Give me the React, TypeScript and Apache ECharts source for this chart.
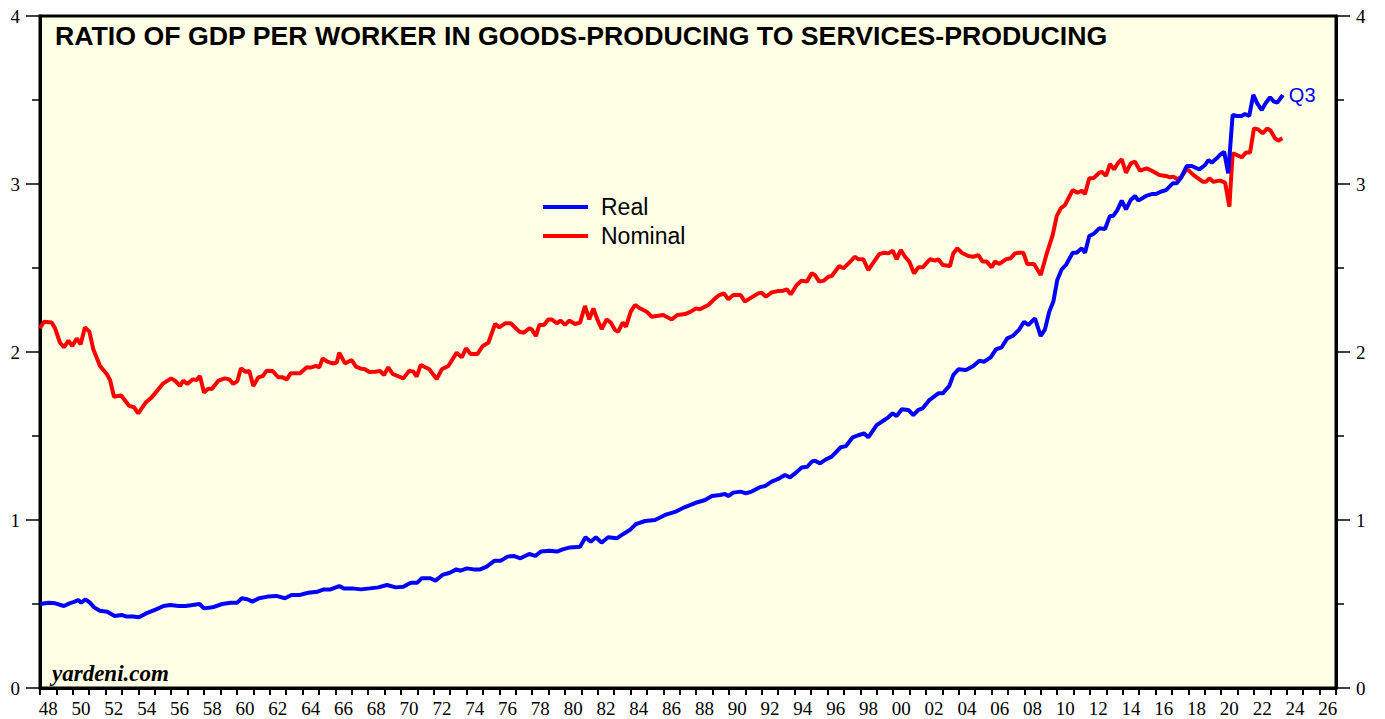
import React, { useEffect, useRef } from "react";
import * as echarts from "echarts";

const yearLabels = [
  "48","49","50","51","52","53","54","55","56","57","58","59","60","61","62","63","64","65","66","67",
  "68","69","70","71","72","73","74","75","76","77","78","79","80","81","82","83","84","85","86","87",
  "88","89","90","91","92","93","94","95","96","97","98","99","00","01","02","03","04","05","06","07",
  "08","09","10","11","12","13","14","15","16","17","18","19","20","21","22","23","24","25","26",
];

const realYears = [
  1948.0,1948.53,1948.93,1949.46,1949.8,1950.12,1950.33,1950.51,1950.77,1951.04,1951.3,1951.65,1952.1,1952.55,1952.97,1953.28,1953.68,1954.03,1954.47,1955.08,
  1955.53,1955.93,1956.46,1956.86,1957.2,1957.73,1957.99,1958.52,1959.1,1959.63,1960.03,1960.29,1960.64,1960.95,1961.35,1961.88,1962.41,1962.93,1963.33,1963.86,
  1964.34,1964.92,1965.31,1965.71,1966.24,1966.51,1967.03,1967.57,1968.1,1968.62,1969.15,1969.68,1970.15,1970.6,1971.0,1971.26,1971.79,1972.11,1972.53,1972.98,
  1973.38,1973.64,1974.03,1974.43,1974.83,1975.23,1975.71,1976.08,1976.5,1976.87,1977.29,1977.82,1978.19,1978.53,1979.06,1979.52,1979.86,1980.31,1980.92,1981.25,
  1981.57,1981.89,1982.23,1982.63,1983.16,1983.56,1983.95,1984.33,1984.88,1985.49,1986.1,1986.71,1987.32,1987.93,1988.54,1988.96,1989.45,1989.75,1989.96,1990.26,
  1990.71,1991.04,1991.38,1991.85,1992.19,1992.6,1993.07,1993.41,1993.72,1994.08,1994.43,1994.77,1995.04,1995.24,1995.55,1995.91,1996.26,1996.81,1997.13,1997.54,
  1997.94,1998.23,1998.49,1999.0,1999.4,1999.71,1999.98,2000.22,2000.53,2000.93,2001.23,2001.54,2001.81,2002.21,2002.76,2003.03,2003.43,2003.67,2003.98,2004.45,
  2004.89,2005.26,2005.54,2005.95,2006.27,2006.62,2006.96,2007.29,2007.7,2007.98,2008.24,2008.65,2009.0,2009.26,2009.52,2009.77,2010.01,2010.28,2010.54,2010.95,
  2011.19,2011.5,2011.7,2011.96,2012.21,2012.57,2012.92,2013.22,2013.42,2013.67,2013.94,2014.2,2014.49,2014.75,2014.95,2015.42,2015.77,2016.03,2016.31,2016.64,
  2017.05,2017.29,2017.53,2017.9,2018.2,2018.67,2019.02,2019.22,2019.42,2019.73,2019.93,2020.18,2020.43,2020.7,2020.98,2021.25,2021.45,2021.71,2021.96,2022.2,
  2022.47,2022.73,2022.98,2023.22,2023.42,2023.76,
];
const realValues = [
  0.5,0.508,0.504,0.488,0.504,0.514,0.524,0.508,0.528,0.508,0.48,0.46,0.454,0.429,0.435,0.425,0.425,0.421,0.444,0.468,
  0.488,0.494,0.488,0.488,0.492,0.5,0.474,0.48,0.5,0.508,0.508,0.534,0.528,0.514,0.534,0.544,0.548,0.534,0.554,0.554,
  0.567,0.573,0.587,0.587,0.607,0.593,0.593,0.587,0.593,0.599,0.613,0.599,0.603,0.627,0.627,0.653,0.653,0.639,0.673,0.686,
  0.706,0.698,0.712,0.706,0.706,0.722,0.758,0.758,0.782,0.786,0.772,0.798,0.786,0.812,0.817,0.812,0.825,0.837,0.841,0.897,
  0.871,0.897,0.865,0.897,0.891,0.917,0.94,0.976,0.994,1.0,1.03,1.048,1.077,1.101,1.119,1.143,1.149,1.155,1.143,1.163,
  1.169,1.159,1.169,1.194,1.202,1.228,1.248,1.268,1.254,1.282,1.313,1.317,1.347,1.353,1.337,1.361,1.377,1.433,1.44,1.492,
  1.506,1.516,1.492,1.565,1.591,1.611,1.635,1.619,1.659,1.655,1.625,1.655,1.665,1.714,1.754,1.754,1.798,1.863,1.897,1.893,
  1.917,1.948,1.942,1.968,2.016,2.028,2.081,2.095,2.135,2.18,2.161,2.2,2.095,2.135,2.24,2.3,2.429,2.492,2.518,2.591,
  2.591,2.617,2.591,2.69,2.702,2.736,2.732,2.81,2.81,2.845,2.901,2.849,2.905,2.929,2.901,2.929,2.94,2.94,2.954,2.964,
  3.004,3.004,3.034,3.107,3.107,3.087,3.113,3.143,3.127,3.153,3.173,3.192,3.063,3.411,3.405,3.405,3.417,3.405,3.53,3.48,
  3.44,3.484,3.516,3.49,3.484,3.53,
];

const nominalYears = [
  1948.0,1948.24,1948.71,1948.91,1949.22,1949.46,1949.73,1949.97,1950.24,1950.48,1950.74,1951.01,1951.25,1951.66,1952.07,1952.27,1952.51,1952.94,1953.44,1953.73,
  1953.99,1954.46,1954.81,1955.48,1955.99,1956.23,1956.53,1956.74,1956.98,1957.31,1957.55,1957.75,1958.0,1958.26,1958.47,1958.87,1959.28,1959.54,1959.78,1960.03,
  1960.25,1960.5,1960.76,1961.0,1961.31,1961.58,1961.82,1962.18,1962.53,1962.79,1963.04,1963.28,1963.85,1964.26,1964.5,1964.82,1965.03,1965.23,1965.51,1965.84,
  1966.09,1966.24,1966.59,1967.0,1967.26,1967.55,1967.81,1968.07,1968.42,1968.73,1968.97,1969.23,1969.5,1970.15,1970.51,1970.76,1970.96,1971.21,1971.73,1972.18,
  1972.49,1972.89,1973.4,1973.71,1973.97,1974.25,1974.66,1974.99,1975.33,1975.74,1976.0,1976.35,1976.69,1977.22,1977.5,1977.83,1977.97,1978.23,1978.44,1978.72,
  1978.98,1979.19,1979.5,1979.74,1980.0,1980.26,1980.61,1980.92,1981.22,1981.48,1981.73,1981.97,1982.24,1982.54,1982.79,1983.05,1983.25,1983.52,1983.72,1984.01,
  1984.27,1984.57,1984.98,1985.29,1985.99,1986.51,1986.85,1987.32,1987.67,1987.99,1988.23,1988.74,1989.15,1989.41,1989.69,1989.96,1990.26,1990.71,1990.97,1991.28,
  1991.78,1991.99,1992.25,1992.6,1993.0,1993.31,1993.52,1993.76,1994.13,1994.43,1994.74,1995.04,1995.24,1995.5,1995.79,1996.05,1996.26,1996.72,1996.97,1997.33,
  1997.68,1997.88,1998.19,1998.49,1998.84,1999.16,1999.45,1999.71,1999.98,2000.22,2000.47,2000.73,2000.99,2001.28,2001.54,2001.81,2002.25,2002.56,2002.76,2003.03,
  2003.47,2003.67,2003.92,2004.18,2004.59,2004.89,2005.2,2005.46,2005.71,2006.01,2006.21,2006.48,2006.88,2007.17,2007.43,2007.7,2007.94,2008.18,2008.59,2009.0,
  2009.37,2009.73,2009.98,2010.22,2010.48,2010.95,2011.23,2011.5,2011.7,2011.96,2012.21,2012.57,2012.72,2012.98,2013.22,2013.47,2013.73,2013.94,2014.2,2014.49,
  2014.75,2015.05,2015.46,2015.77,2016.23,2016.64,2016.88,2017.08,2017.33,2017.59,2017.86,2018.0,2018.3,2018.87,2019.08,2019.28,2019.52,2019.93,2020.24,2020.5,
  2020.7,2020.95,2021.25,2021.51,2021.76,2022.0,2022.26,2022.53,2022.81,2023.02,2023.28,2023.48,2023.73,
];
const nominalValues = [
  2.141,2.18,2.175,2.143,2.055,2.028,2.067,2.036,2.081,2.046,2.147,2.121,2.016,1.917,1.869,1.833,1.734,1.742,1.679,1.671,
  1.635,1.701,1.73,1.81,1.843,1.829,1.798,1.829,1.81,1.837,1.833,1.857,1.758,1.782,1.78,1.829,1.843,1.837,1.81,1.827,
  1.903,1.883,1.887,1.798,1.849,1.857,1.889,1.887,1.849,1.849,1.837,1.873,1.873,1.909,1.907,1.917,1.909,1.962,1.943,1.932,
  1.937,1.996,1.932,1.952,1.913,1.901,1.897,1.881,1.883,1.887,1.863,1.909,1.869,1.843,1.889,1.883,1.853,1.923,1.897,1.839,
  1.897,1.917,1.996,1.968,2.022,1.988,1.988,2.036,2.055,2.167,2.147,2.171,2.171,2.121,2.115,2.141,2.135,2.095,2.161,2.161,
  2.194,2.194,2.171,2.187,2.161,2.187,2.167,2.175,2.274,2.194,2.26,2.194,2.137,2.194,2.175,2.131,2.121,2.175,2.151,2.24,
  2.28,2.26,2.24,2.21,2.22,2.194,2.22,2.226,2.24,2.26,2.254,2.28,2.319,2.339,2.349,2.314,2.339,2.339,2.3,2.319,
  2.349,2.353,2.329,2.355,2.363,2.365,2.373,2.343,2.399,2.425,2.419,2.468,2.458,2.419,2.425,2.448,2.452,2.512,2.498,2.532,
  2.567,2.552,2.552,2.488,2.538,2.583,2.591,2.587,2.603,2.552,2.607,2.567,2.538,2.468,2.504,2.504,2.552,2.544,2.552,2.518,
  2.512,2.587,2.617,2.591,2.571,2.567,2.577,2.538,2.538,2.504,2.538,2.524,2.552,2.558,2.587,2.591,2.591,2.524,2.524,2.458,
  2.587,2.696,2.81,2.855,2.875,2.964,2.948,2.96,2.94,3.034,3.034,3.067,3.073,3.048,3.119,3.087,3.127,3.147,3.067,3.123,
  3.133,3.079,3.093,3.079,3.054,3.048,3.04,3.044,3.028,3.044,3.087,3.083,3.054,3.014,3.014,3.034,3.014,3.02,3.008,2.865,
  3.183,3.173,3.159,3.187,3.187,3.331,3.325,3.302,3.331,3.317,3.272,3.258,3.272,
];

const titleText = "RATIO OF GDP PER WORKER IN GOODS-PRODUCING TO SERVICES-PRODUCING";
const sourceText = "yardeni.com";
const lastLabel = "Q3";

const BLUE = "#0000FF";
const RED = "#FF0000";
const SANS = "Liberation Sans, Arial, sans-serif";
const SERIF = "Liberation Serif, Times New Roman, serif";

function pairs(xs: number[], ys: number[]) {
  return xs.map((x, i) => [x, ys[i]]);
}

function yAxisDef(position: "left" | "right") {
  return {
    type: "value",
    position,
    min: 0,
    max: 4,
    interval: 1,
    axisLine: { show: true, lineStyle: { color: "#000", width: 3 } },
    axisTick: { show: true, length: 14, lineStyle: { color: "#000", width: 1.5 } },
    minorTick: { show: true, splitNumber: 2, length: 8, lineStyle: { color: "#000", width: 1.5 } },
    axisLabel: { margin: 20, fontFamily: SERIF, fontSize: 19, color: "#000" },
    splitLine: { show: false },
    minorSplitLine: { show: false },
  };
}

export default function App() {
  const ref = useRef<HTMLDivElement>(null);
  useEffect(() => {
    if (!ref.current) return;
    const chart = echarts.init(ref.current, undefined, { renderer: "svg" });
    chart.setOption({
      animation: false,
      backgroundColor: "#FFFFFF",
      grid: {
        left: 40,
        right: 49,
        top: 16,
        bottom: 31,
        show: true,
        backgroundColor: "#FFFFE5",
        borderColor: "#000",
        borderWidth: 3,
      },
      legend: {
        orient: "vertical",
        left: 543,
        top: 195,
        padding: 0,
        icon: "rect",
        itemWidth: 45,
        itemHeight: 4,
        itemGap: 5,
        data: ["Real", "Nominal"],
        textStyle: { fontFamily: SANS, fontSize: 23, lineHeight: 24, color: "#000", padding: [0, 0, 0, 8] },
      },
      xAxis: [
        {
          type: "category",
          data: yearLabels,
          position: "bottom",
          boundaryGap: true,
          axisLine: { show: true, lineStyle: { color: "#000", width: 3 } },
          axisTick: { show: true, interval: 0, length: 7, alignWithLabel: false, lineStyle: { color: "#000", width: 2 } },
          axisLabel: { interval: 1, margin: 11, fontFamily: SERIF, fontSize: 19, color: "#000" },
          splitLine: { show: false },
        },
        { type: "value", min: 1948, max: 2027, show: false },
      ],
      yAxis: [yAxisDef("left"), yAxisDef("right")],
      graphic: [
        {
          type: "text",
          left: 55,
          top: 22,
          style: { text: titleText, fontFamily: SANS, fontWeight: "bold", fontSize: 26.7, fill: "#000" },
        },
        {
          type: "text",
          left: 52,
          top: 662,
          style: { text: sourceText, fontFamily: SERIF, fontWeight: "bold", fontStyle: "italic", fontSize: 23, fill: "#000" },
        },
      ],
      series: [
        {
          name: "Real",
          type: "line",
          xAxisIndex: 1,
          yAxisIndex: 0,
          z: 3,
          showSymbol: false,
          data: pairs(realYears, realValues),
          lineStyle: { color: BLUE, width: 4 },
          itemStyle: { color: BLUE },
          endLabel: { show: true, formatter: lastLabel, color: BLUE, fontFamily: SANS, fontSize: 20, distance: 6 },
        },
        {
          name: "Nominal",
          type: "line",
          xAxisIndex: 1,
          yAxisIndex: 0,
          z: 2,
          showSymbol: false,
          data: pairs(nominalYears, nominalValues),
          lineStyle: { color: RED, width: 4 },
          itemStyle: { color: RED },
        },
      ],
    });
    return () => chart.dispose();
  }, []);
  return <div ref={ref} style={{ position: "absolute", left: 0, top: 0, width: 1385, height: 719 }} />;
}
